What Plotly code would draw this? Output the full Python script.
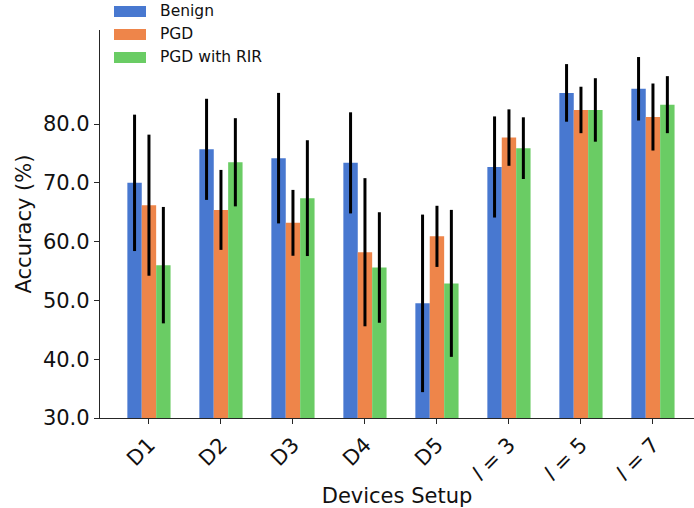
import plotly.graph_objects as go

categories = ["D1", "D2", "D3", "D4", "D5", "<i>l</i> = 3", "<i>l</i> = 5", "<i>l</i> = 7"]
series_names = ["Benign", "PGD", "PGD with RIR"]
benign = [70.0, 75.7, 74.2, 73.4, 49.5, 72.7, 85.3, 86.0]
benign_err = [11.6, 8.6, 11.1, 8.6, 15.1, 8.6, 4.9, 5.4]
pgd = [66.2, 65.4, 63.2, 58.2, 60.9, 77.7, 82.4, 81.2]
pgd_err = [12.0, 6.8, 5.6, 12.6, 5.2, 4.8, 3.95, 5.7]
rir = [56.0, 73.5, 67.4, 55.6, 52.9, 75.9, 82.4, 83.3]
rir_err = [9.9, 7.5, 9.85, 9.4, 12.5, 5.25, 5.4, 4.85]
colors = ["#4878D0", "#EE854A", "#6ACC64"]
y_ticks = [30, 40, 50, 60, 70, 80]

W, H = 694, 508
L, R, T, B = 100, 0, 30, 90
FONT = "DejaVu Sans"
TXT = "#111111"

fig = go.Figure()
for name, vals, errs, c in zip(series_names, [benign, pgd, rir], [benign_err, pgd_err, rir_err], colors):
    fig.add_trace(go.Bar(
        x=list(range(len(categories))), y=vals, name=name,
        marker=dict(color=c, line=dict(width=0)),
        error_y=dict(type="data", array=errs, visible=True, color="black", thickness=3, width=0),
        showlegend=False,
    ))

# custom legend (matplotlib-like wide patches)
pw = W - L - R
ph = H - T - B
for i, (name, c) in enumerate(zip(series_names, colors)):
    cy = 11.5 + 23 * i
    x0 = (114 - L) / pw
    x1 = (146 - L) / pw
    y0 = (H - B - (cy + 5.5)) / ph
    y1 = (H - B - (cy - 5.5)) / ph
    fig.add_shape(type="rect", xref="paper", yref="paper", x0=x0, x1=x1, y0=y0, y1=y1,
                  fillcolor=c, line=dict(width=0))
    fig.add_annotation(xref="paper", yref="paper", x=(158 - L) / pw, y=(H - B - cy) / ph,
                       text=name, showarrow=False, xanchor="left", yanchor="middle",
                       font=dict(family=FONT, size=15.5, color=TXT))

fig.update_layout(
    width=W, height=H,
    margin=dict(l=L, r=R, t=T, b=B, pad=0),
    paper_bgcolor="white", plot_bgcolor="white",
    barmode="group", bargap=0.4, bargroupgap=0,
    font=dict(family=FONT, size=21, color=TXT),
    xaxis=dict(
        tickmode="array", tickvals=list(range(len(categories))), ticktext=categories,
        range=[-0.68, 7.57], tickangle=-45,
        showline=True, linecolor="#262626", linewidth=1.3,
        ticks="outside", ticklen=5, tickwidth=1.3, tickcolor="#262626",
        showgrid=False, zeroline=False,
        title=dict(text="Devices Setup", font=dict(size=21), standoff=6),
        automargin=False,
    ),
    yaxis=dict(
        range=[30, 96], tickmode="array", tickvals=y_ticks, tickformat=".1f",
        showline=True, linecolor="#262626", linewidth=1.3,
        ticks="outside", ticklen=5, tickwidth=1.3, tickcolor="#262626",
        showgrid=False, zeroline=False,
        title=dict(text="Accuracy (%)", font=dict(size=21), standoff=5),
        automargin=False,
    ),
)

fig.write_html("out.html")
